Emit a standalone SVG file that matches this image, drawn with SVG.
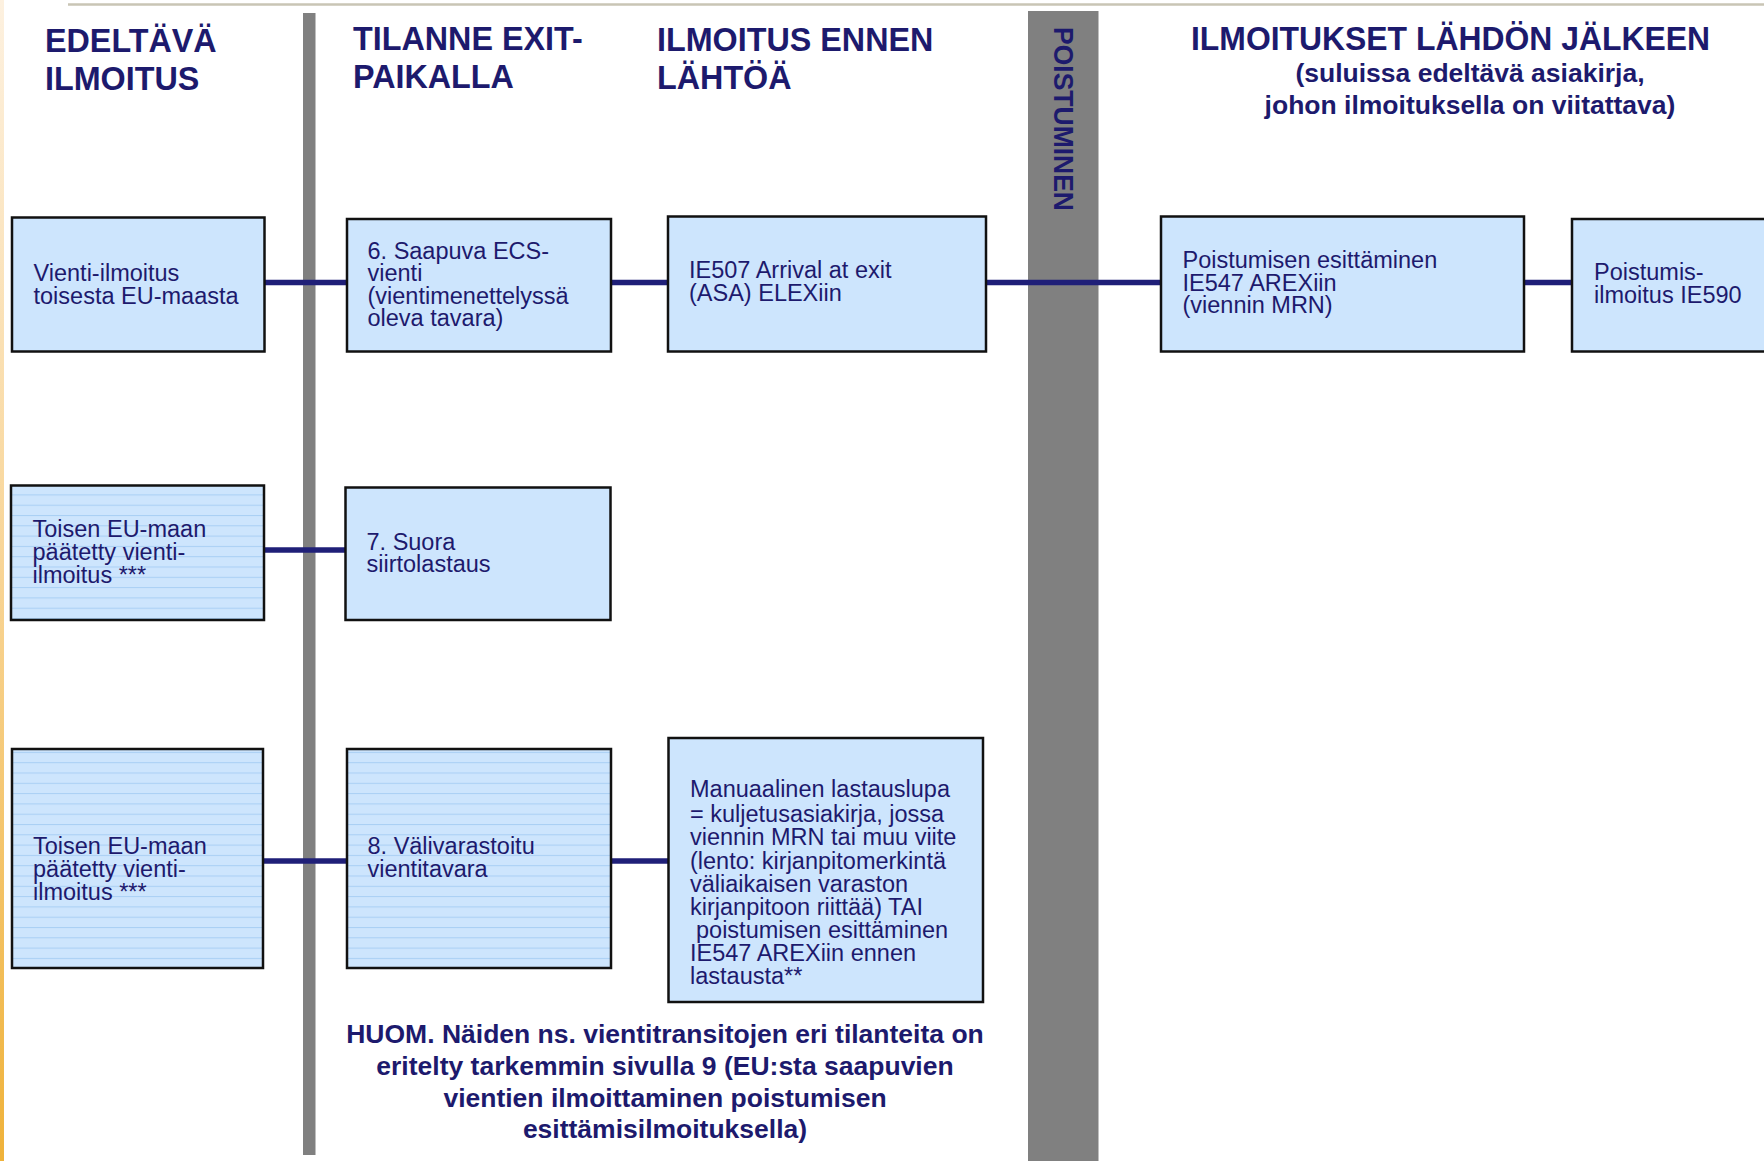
<svg xmlns="http://www.w3.org/2000/svg" width="1764" height="1161" viewBox="0 0 1764 1161">
<style>
.hdr{font-family:"Liberation Sans",Arial,sans-serif;font-weight:bold;font-size:32.3px;fill:#1d1a6d}
.sub{font-family:"Liberation Sans",Arial,sans-serif;font-weight:bold;font-size:26.5px;fill:#1d1a6d;text-anchor:middle}
.note{font-family:"Liberation Sans",Arial,sans-serif;font-weight:bold;font-size:26.5px;fill:#1d1a6d;text-anchor:middle}
.bt{font-family:"Liberation Sans",Arial,sans-serif;font-size:23.5px;fill:#1d1a6d}
.box{fill:#cde5fd;stroke:#111;stroke-width:2.5}
.striped{fill:url(#stripes);stroke:#111;stroke-width:2.5}
.conn{stroke:#1f1f78;stroke-width:5.5;fill:none}
.bar{fill:#808080}
</style>
<defs>
<linearGradient id="edge" x1="0" y1="0" x2="0" y2="1">
<stop offset="0" stop-color="#fdf1e0"/>
<stop offset="0.5" stop-color="#f8d494"/>
<stop offset="1" stop-color="#efb23a"/>
</linearGradient>
<pattern id="stripes" patternUnits="userSpaceOnUse" width="12" height="10.3">
<rect width="12" height="10.3" fill="#cde5fd"/>
<line x1="0" y1="0.5" x2="12" y2="0.5" stroke="#a9cff4" stroke-width="1"/>
</pattern>
</defs>
<rect width="1764" height="1161" fill="#ffffff"/>
<rect x="0" y="0" width="4" height="1161" fill="url(#edge)"/>
<line x1="68" y1="4.5" x2="1764" y2="4.5" stroke="#c9c5b5" stroke-width="2.5"/>

<g id="bars">
<rect class="bar" x="303" y="13" width="12.5" height="1142"/>
<rect class="bar" x="1028" y="11" width="70.5" height="1150"/>
<text class="hdr" transform="translate(1053.5,27) rotate(90)" style="font-size:27px" textLength="184" lengthAdjust="spacingAndGlyphs">POISTUMINEN</text>
</g>

<g id="headers">
<text class="hdr" x="45" y="51.5">EDELTÄVÄ</text>
<text class="hdr" x="45" y="90">ILMOITUS</text>
<text class="hdr" x="353" y="49.5">TILANNE EXIT-</text>
<text class="hdr" x="353" y="87.5">PAIKALLA</text>
<text class="hdr" x="657" y="50.5">ILMOITUS ENNEN</text>
<text class="hdr" x="657" y="88.5">LÄHTÖÄ</text>
<text class="hdr" x="1191" y="50" textLength="519" lengthAdjust="spacingAndGlyphs">ILMOITUKSET LÄHDÖN JÄLKEEN</text>
<text class="sub" x="1470" y="82">(suluissa edeltävä asiakirja,</text>
<text class="sub" x="1470" y="113.5">johon ilmoituksella on viitattava)</text>
</g>

<g id="connectors">
<line class="conn" x1="264" y1="282.5" x2="347" y2="282.5"/>
<line class="conn" x1="611" y1="282.5" x2="668" y2="282.5"/>
<line class="conn" x1="986" y1="282.5" x2="1161" y2="282.5"/>
<line class="conn" x1="1524" y1="282.5" x2="1572" y2="282.5"/>
<line class="conn" x1="263" y1="550" x2="345" y2="550"/>
<line class="conn" x1="263" y1="861" x2="347" y2="861"/>
<line class="conn" x1="611" y1="861" x2="668" y2="861"/>
</g>

<g id="n1">
<rect class="box" x="12" y="217.5" width="252.5" height="134"/>
<text class="bt" x="33.5" y="281">Vienti-ilmoitus</text>
<text class="bt" x="33.5" y="303.5">toisesta EU-maasta</text>
</g>
<g id="n2">
<rect class="box" x="347" y="219" width="264" height="132.5"/>
<text class="bt" x="367.5" y="258.5">6. Saapuva ECS-</text>
<text class="bt" x="367.5" y="281">vienti</text>
<text class="bt" x="367.5" y="303.5">(vientimenettelyssä</text>
<text class="bt" x="367.5" y="326">oleva tavara)</text>
</g>
<g id="n3">
<rect class="box" x="668" y="216.5" width="318" height="135"/>
<text class="bt" x="689" y="278">IE507 Arrival at exit</text>
<text class="bt" x="689" y="301">(ASA) ELEXiin</text>
</g>
<g id="n4">
<rect class="box" x="1161" y="216.5" width="363" height="135"/>
<text class="bt" x="1182.5" y="268">Poistumisen esittäminen</text>
<text class="bt" x="1182.5" y="290.5">IE547 AREXiin</text>
<text class="bt" x="1182.5" y="313">(viennin MRN)</text>
</g>
<g id="n5">
<rect class="box" x="1572" y="219" width="210" height="132.5"/>
<text class="bt" x="1594" y="280">Poistumis-</text>
<text class="bt" x="1594" y="302.5">ilmoitus IE590</text>
</g>
<g id="n6">
<rect class="striped" x="11" y="485.5" width="253" height="134.5"/>
<text class="bt" x="32.5" y="537">Toisen EU-maan</text>
<text class="bt" x="32.5" y="560">päätetty vienti-</text>
<text class="bt" x="32.5" y="583">ilmoitus ***</text>
</g>
<g id="n7">
<rect class="box" x="345.5" y="487.5" width="265" height="132.5"/>
<text class="bt" x="366.5" y="549.5">7. Suora</text>
<text class="bt" x="366.5" y="572">siirtolastaus</text>
</g>
<g id="n8">
<rect class="striped" x="12" y="749" width="251" height="219"/>
<text class="bt" x="33" y="853.5">Toisen EU-maan</text>
<text class="bt" x="33" y="876.5">päätetty vienti-</text>
<text class="bt" x="33" y="899.5">ilmoitus ***</text>
</g>
<g id="n9">
<rect class="striped" x="347" y="749" width="264" height="219"/>
<text class="bt" x="367.5" y="853.5">8. Välivarastoitu</text>
<text class="bt" x="367.5" y="876.5">vientitavara</text>
</g>
<g id="n10">
<rect class="box" x="668.5" y="738" width="314.5" height="264"/>
<text class="bt" x="690" y="797">Manuaalinen lastauslupa</text>
<text class="bt" x="690" y="821.5">= kuljetusasiakirja, jossa</text>
<text class="bt" x="690" y="845">viennin MRN tai muu viite</text>
<text class="bt" x="690" y="868.5">(lento: kirjanpitomerkintä</text>
<text class="bt" x="690" y="892">väliaikaisen varaston</text>
<text class="bt" x="690" y="915">kirjanpitoon riittää) TAI</text>
<text class="bt" x="696" y="938">poistumisen esittäminen</text>
<text class="bt" x="690" y="961">IE547 AREXiin ennen</text>
<text class="bt" x="690" y="984">lastausta**</text>
</g>

<g id="note">
<text class="note" x="665" y="1043">HUOM. Näiden ns. vientitransitojen eri tilanteita on</text>
<text class="note" x="665" y="1075">eritelty tarkemmin sivulla 9 (EU:sta saapuvien</text>
<text class="note" x="665" y="1106.5">vientien ilmoittaminen poistumisen</text>
<text class="note" x="665" y="1137.5">esittämisilmoituksella)</text>
</g>
</svg>
